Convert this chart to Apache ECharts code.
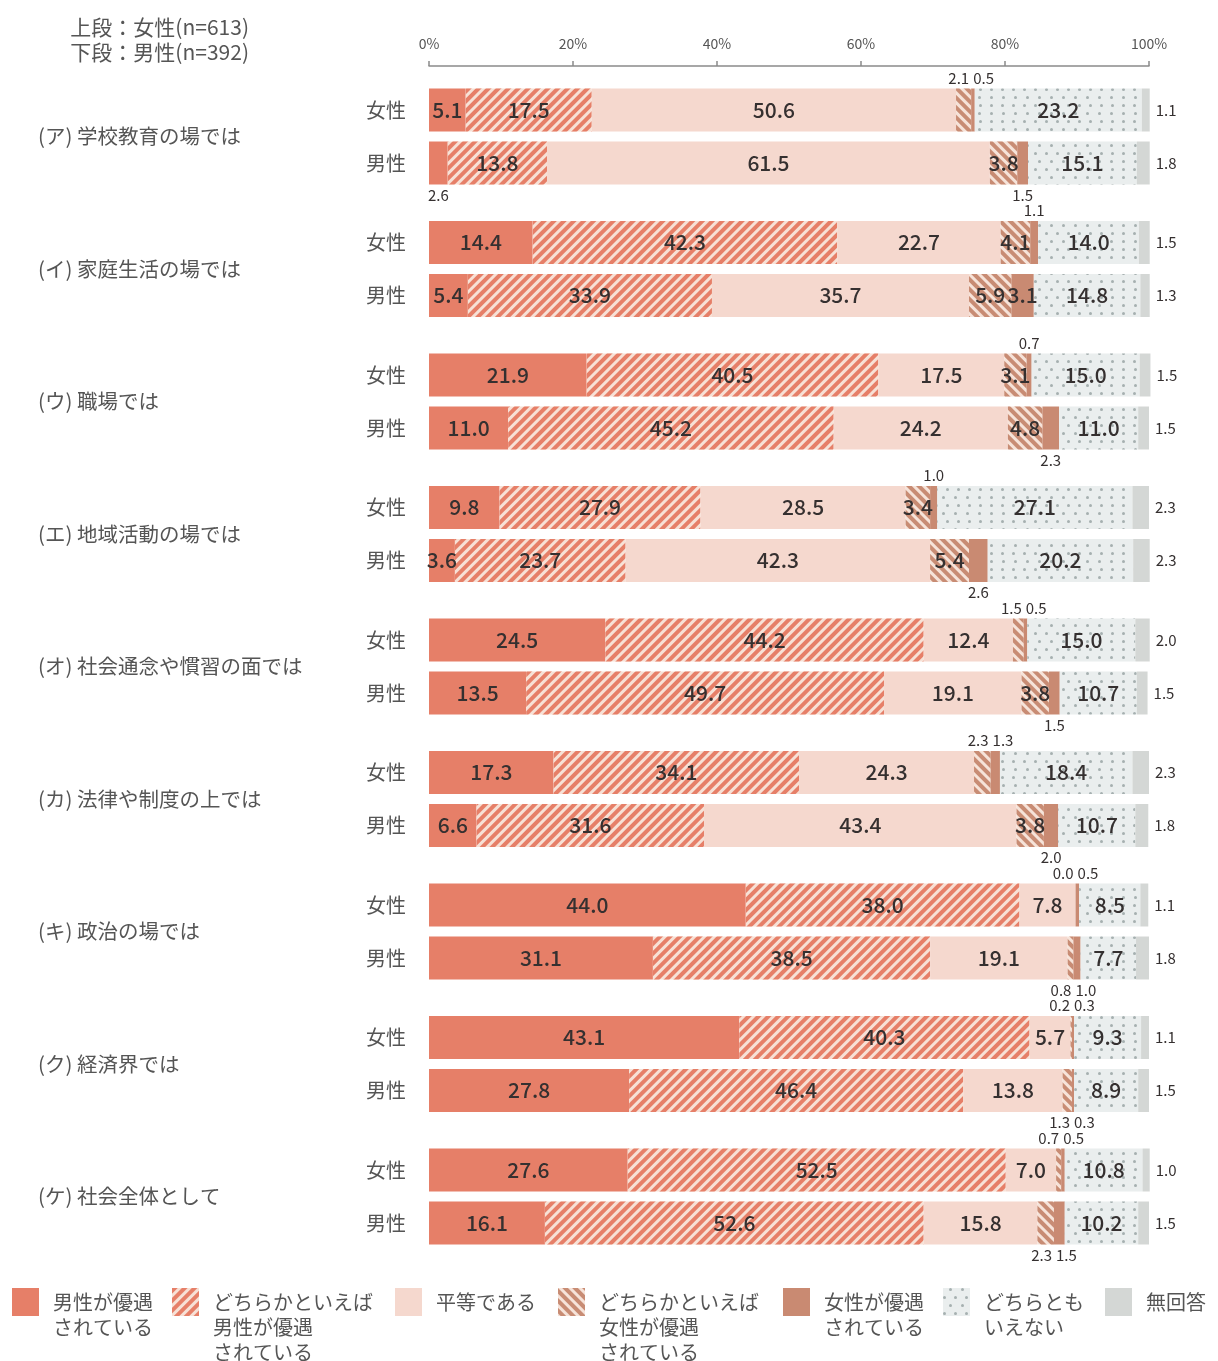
<!DOCTYPE html>
<html>
<head>
<meta charset="utf-8">
<script src="https://cdn.jsdelivr.net/npm/echarts@6/dist/echarts.min.js"></script>
<style>
html,body{margin:0;padding:0;background:#fff;}
#chart{width:1218px;height:1361px;}
</style>
</head>
<body>
<div id="chart"></div>
<script>
// ---- data ----
const groups = ['(ア) 学校教育の場では','(イ) 家庭生活の場では','(ウ) 職場では','(エ) 地域活動の場では','(オ) 社会通念や慣習の面では','(カ) 法律や制度の上では','(キ) 政治の場では','(ク) 経済界では','(ケ) 社会全体として'];
const genders = ['女性','男性'];
const responses = ['男性が優遇されている','どちらかといえば男性が優遇されている','平等である','どちらかといえば女性が優遇されている','女性が優遇されている','どちらともいえない','無回答'];
const legendText = ['男性が優遇\nされている','どちらかといえば\n男性が優遇\nされている','平等である','どちらかといえば\n女性が優遇\nされている','女性が優遇\nされている','どちらとも\nいえない','無回答'];
const xTicks = ['0%','20%','40%','60%','80%','100%'];
const headerText = '上段：女性(n=613)\n下段：男性(n=392)';

// women (upper row)
const womenMale      = [5.1,14.4,21.9,9.8,24.5,17.3,44.0,43.1,27.6];
const womenRatherMale= [17.5,42.3,40.5,27.9,44.2,34.1,38.0,40.3,52.5];
const womenEqual     = [50.6,22.7,17.5,28.5,12.4,24.3,7.8,5.7,7.0];
const womenRatherFem = [2.1,4.1,3.1,3.4,1.5,2.3,0.0,0.2,0.7];
const womenFem       = [0.5,1.1,0.7,1.0,0.5,1.3,0.5,0.3,0.5];
const womenNeither   = [23.2,14.0,15.0,27.1,15.0,18.4,8.5,9.3,10.8];
const womenNoAnswer  = [1.1,1.5,1.5,2.3,2.0,2.3,1.1,1.1,1.0];
// men (lower row)
const menMale        = [2.6,5.4,11.0,3.6,13.5,6.6,31.1,27.8,16.1];
const menRatherMale  = [13.8,33.9,45.2,23.7,49.7,31.6,38.5,46.4,52.6];
const menEqual       = [61.5,35.7,24.2,42.3,19.1,43.4,19.1,13.8,15.8];
const menRatherFem   = [3.8,5.9,4.8,5.4,3.8,3.8,0.8,1.3,2.3];
const menFem         = [1.5,3.1,2.3,2.6,1.5,2.0,1.0,0.3,1.5];
const menNeither     = [15.1,14.8,11.0,20.2,10.7,10.7,7.7,8.9,10.2];
const menNoAnswer    = [1.8,1.3,1.5,2.3,1.5,1.8,1.8,1.5,1.5];

const women = [womenMale,womenRatherMale,womenEqual,womenRatherFem,womenFem,womenNeither,womenNoAnswer];
const men   = [menMale,menRatherMale,menEqual,menRatherFem,menFem,menNeither,menNoAnswer];

// ---- layout helpers ----
const SLOTS_PER_GROUP = 5;
const nSlots = (groups.length - 1) * SLOTS_PER_GROUP + 3;
const slotIds = [];
for (let i = 0; i < nSlots; i++) slotIds.push('s' + i);

const TXT = '#353030';
const GREY = '#555';
const FONT = '"Noto Sans CJK JP","Noto Sans",sans-serif';

const colors = ['#E67F68','#F7E1D6','#F5D8CE','#F6E3D9','#C98A72','#EAEEEE','#D4D7D5'];
const decals = [
  null,
  {symbol:'rect', color:'#E67F68', dashArrayX:[1,0], dashArrayY:[4,2.6], rotation:-Math.PI/4},
  null,
  {symbol:'rect', color:'#C88C74', dashArrayX:[1,0], dashArrayY:[4,2.6], rotation:Math.PI/4},
  null,
  {symbol:'circle', color:'#A6B0B0', symbolSize:1, dashArrayX:[[3,8],[0,5.5,3,2.5]], dashArrayY:[3,5]},
  null
];

function makeLabel(s, arr, g, gender) {
  const v = arr[s][g];
  if (s === 6) return {show:true, position:'right', distance:6, fontSize:15, color:TXT};
  if (v >= 3) return {show:true, position:'inside', fontSize:21, fontWeight:500, color:TXT};
  const top = gender === 0;
  const pair = arr[3][g] < 3 && arr[4][g] < 3;
  if (pair && s === 3) {
    return {show:true, position:['100%', top ? 0 : '100%'], align:'right', verticalAlign: top ? 'bottom':'top',
            offset:[-2, top ? -3 : 3], fontSize:15, color:TXT};
  }
  if (pair && s === 4) {
    return {show:true, position:[0, top ? 0 : '100%'], align:'left', verticalAlign: top ? 'bottom':'top',
            offset:[2, top ? -3 : 3], fontSize:15, color:TXT};
  }
  return {show:true, position: top ? 'top' : 'bottom', distance:3, fontSize:15, color:TXT};
}

const series = responses.map((name, s) => {
  const data = slotIds.map(() => '-');
  groups.forEach((_, g) => {
    data[g * SLOTS_PER_GROUP] = {value: women[s][g], label: makeLabel(s, women, g, 0)};
    data[g * SLOTS_PER_GROUP + 2] = {value: men[s][g], label: makeLabel(s, men, g, 1)};
  });
  const itemStyle = {color: colors[s]};
  if (decals[s]) itemStyle.decal = decals[s];
  return {
    name, type:'bar', stack:'total', barWidth:43, data, itemStyle, clip:false,
    label:{show:true, fontFamily:FONT, formatter: p => Number(p.value).toFixed(1)},
    emphasis:{disabled:true}, animation:false
  };
});

const legendLeft = [12,172,395,558,783,943,1105];
const legends = responses.map((name, i) => {
  const n = legendText[i].split('\n').length;
  return {
    left: legendLeft[i], top: 1288 - (n > 1 ? (25 * n - 26.5) : 0),
    padding: 0, itemWidth: 27, itemHeight: 28, selectedMode: false,
    icon: 'rect', data: [name],
    formatter: () => '\n'.repeat(n - 1) + legendText[i],
    textStyle: {fontSize: 20, color: GREY, fontFamily: FONT, lineHeight: 25, padding: [0, 0, 0, 9]}
  };
});

const option = {
  animation: false,
  textStyle: {fontFamily: FONT},
  title: {
    text: headerText, left: 244, top: 10, textAlign: 'right',
    textStyle: {fontSize: 21, fontWeight: 'normal', color: GREY, lineHeight: 25, fontFamily: FONT}
  },
  legend: legends,
  grid: {left: 429, right: 69, top: 96.75, height: nSlots * 26.5},
  xAxis: {
    type: 'value', position: 'top', min: 0, max: 100, interval: 20, offset: 30.75,
    axisLine: {show: true, lineStyle: {color: '#8a8a8a', width: 1.5}},
    axisTick: {show: true, length: 5, lineStyle: {color: '#8a8a8a', width: 1.5}},
    splitLine: {show: false},
    axisLabel: {fontSize: 14, color: GREY, margin: 15, formatter: (v) => xTicks[Math.round(v / 20)]}
  },
  yAxis: [
    {
      type: 'category', inverse: true, data: slotIds,
      axisLine: {show: false}, axisTick: {show: false},
      axisLabel: {interval: 0, margin: 23, fontSize: 20, color: GREY,
        formatter: (v, i) => { const r = i % SLOTS_PER_GROUP; return r === 0 ? genders[0] : (r === 2 ? genders[1] : ''); }}
    },
    {
      type: 'category', inverse: true, data: slotIds, position: 'left', offset: 391,
      axisLine: {show: false}, axisTick: {show: false},
      axisLabel: {interval: 0, margin: 0, align: 'left', fontSize: 20.5, color: GREY,
        formatter: (v, i) => (i % SLOTS_PER_GROUP === 1 ? groups[(i - 1) / SLOTS_PER_GROUP] : '')}
    }
  ],
  series
};

const chart = echarts.init(document.getElementById('chart'), null, {renderer: 'canvas'});
chart.setOption(option);
</script>
</body>
</html>
